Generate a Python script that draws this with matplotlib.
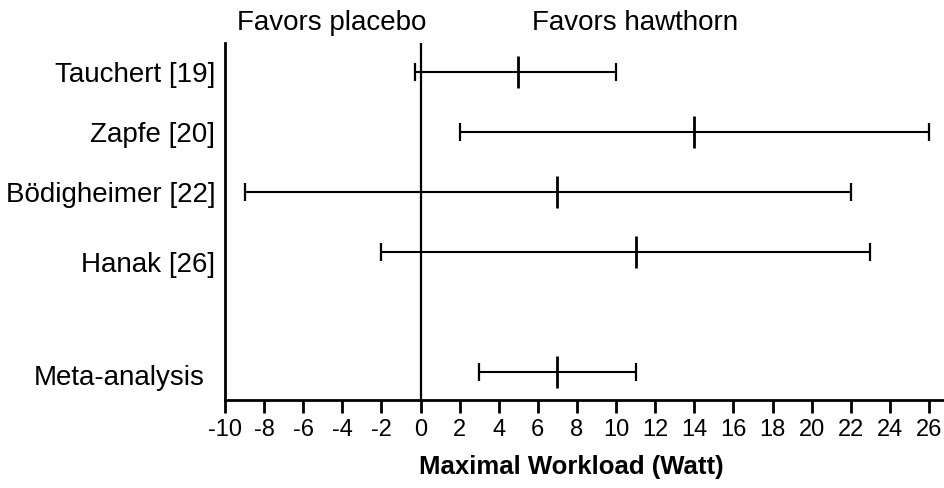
import matplotlib
matplotlib.use("Agg")
import matplotlib.pyplot as plt
import matplotlib.transforms as mtransforms

studies = ["Tauchert [19]", "Zapfe [20]", "Bödigheimer [22]", "Hanak [26]", "Meta-analysis"]
ypos = [5, 4, 3, 2, 0]
means = [5, 14, 7, 11, 7]
lower = [-0.3, 2, -9, -2, 3]
upper = [10, 26, 22, 23, 11]
xticks = list(range(-10, 27, 2))

plt.rcParams['font.family'] = ['Liberation Sans', 'DejaVu Sans']

fig = plt.figure(figsize=(9.45, 4.88), dpi=100)
ax = fig.add_axes([225/945, 88/488, 1 - 225/945, (400-43)/488])

for y, m, lo, hi in zip(ypos, means, lower, upper):
    ax.plot([lo, hi], [y, y], color='black', lw=1.5, solid_capstyle='butt')
    ax.plot([lo, hi], [y, y], ls='none', marker='|', ms=13, mew=1.6, color='black')
    ax.plot([m], [y], ls='none', marker='|', ms=23, mew=2.0, color='black')

ax.axvline(0, color='black', lw=1.6)

ax.set_xlim(-10, 26.82)
ax.set_ylim(-0.467, 5.483)
ax.spines['top'].set_visible(False)
ax.spines['right'].set_visible(False)
ax.spines['left'].set_linewidth(2)
ax.spines['bottom'].set_linewidth(2)

ax.set_xticks(xticks)
ax.set_xticklabels([str(t) for t in xticks], fontsize=17)
ax.tick_params(axis='x', direction='out', length=9, width=2, pad=5)

ax.set_yticks(ypos)
ax.set_yticklabels(studies, fontsize=20)
ax.tick_params(axis='y', length=0, pad=7)
offsets = {"Hanak [26]": (0, -10), "Meta-analysis": (-11, -3)}
for lab in ax.get_yticklabels():
    dx, dy = offsets.get(lab.get_text(), (0, 0))
    if dx or dy:
        lab.set_transform(lab.get_transform() + mtransforms.ScaledTranslation(dx/100, dy/100, fig.dpi_scale_trans))

ax.set_xlabel("Maximal Workload (Watt)", fontsize=18.5, fontweight='bold', va='center')
ax.xaxis.set_label_coords((571-225)/(945-225), -(467-400)/357)

fig.text(332/945, 1 - 23/488, "Favors placebo", fontsize=20, ha='center', va='center')
fig.text(635/945, 1 - 23/488, "Favors hawthorn", fontsize=20, ha='center', va='center')

fig.savefig("out.png", dpi=100)
